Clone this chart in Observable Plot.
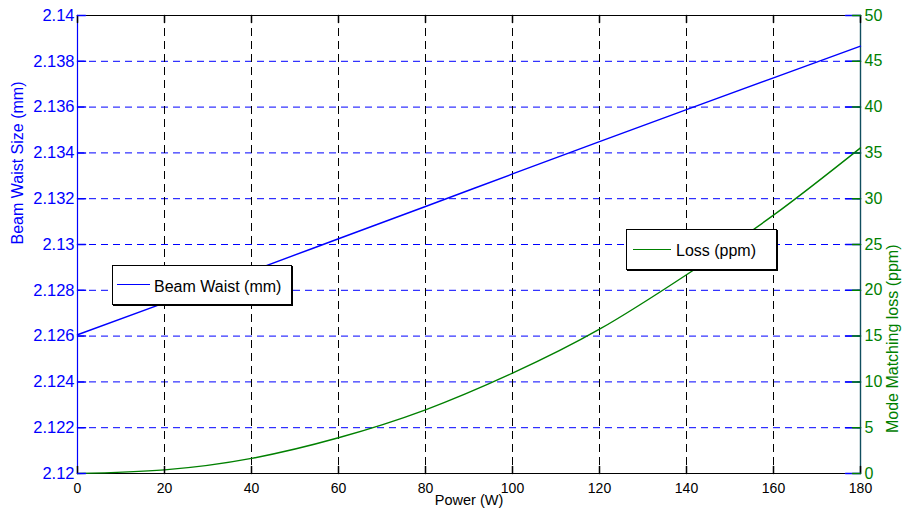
<!DOCTYPE html>
<html><head><meta charset="utf-8">
<script src="https://cdn.jsdelivr.net/npm/d3@7"></script>
<script src="https://cdn.jsdelivr.net/npm/@observablehq/plot@0.6"></script>
<style>
body{margin:0;background:#fff;}
#wrap{position:relative;width:903px;height:518px;}
.legend{position:absolute;background:#fff;border:1px solid #000;box-shadow:1px 1px 0 #000;font:16px "Liberation Sans",Arial,sans-serif;color:#000;box-sizing:border-box;}
.legend .swatch{position:absolute;height:0;border-top:1.3px solid;}
.legend .lbl{position:absolute;white-space:nowrap;line-height:1;}
</style></head><body>
<div id="wrap"></div>
<script>
// ---- data ----
const power = [0, 20, 40, 60, 80, 100, 120, 140, 160, 180];
const beamWaist = [2.12606, 2.12745, 2.12884, 2.13025, 2.13166, 2.13308, 2.13449, 2.13589, 2.13728, 2.13866];
const lossPpm = [0, 0.4, 1.65, 3.9, 6.95, 10.95, 15.75, 21.7, 28.2, 35.55];
const xTicks = [0, 20, 40, 60, 80, 100, 120, 140, 160, 180];
const leftTicks = [2.12, 2.122, 2.124, 2.126, 2.128, 2.13, 2.132, 2.134, 2.136, 2.138, 2.14];
const leftTickLabels = ["2.12", "2.122", "2.124", "2.126", "2.128", "2.13", "2.132", "2.134", "2.136", "2.138", "2.14"];
const rightTicks = [0, 5, 10, 15, 20, 25, 30, 35, 40, 45, 50];
const rightTickLabels = ["0", "5", "10", "15", "20", "25", "30", "35", "40", "45", "50"];
const xLabel = "Power (W)";
const yLeftLabel = "Beam Waist Size (mm)";
const yRightLabel = "Mode Matching loss (ppm)";
const seriesNames = ["Beam Waist (mm)", "Loss (ppm)"];

// ---- chart ----
const BLUE = "#0000ff", GREEN = "#008000", TEAL = "#104e5e";
const leftDomain = [2.12, 2.14], rightDomain = [0, 50];
const yR = v => leftDomain[0] + (v - rightDomain[0]) * (leftDomain[1] - leftDomain[0]) / (rightDomain[1] - rightDomain[0]);
const data = power.map((p, i) => ({p, w: beamWaist[i], loss: lossPpm[i]}));
const tickShape = {draw(ctx, l) { ctx.moveTo(0, 0); ctx.lineTo(0, -l); }};
const SANS = "Liberation Sans, Arial, sans-serif";
const NARROW = "Liberation Sans Narrow, Arial Narrow, Liberation Sans, sans-serif";

const plot = Plot.plot({
  width: 903, height: 518,
  marginLeft: 77, marginRight: 43, marginTop: 15, marginBottom: 45,
  x: {domain: [0, 180]},
  y: {domain: leftDomain},
  style: {background: "#fff", fontFamily: SANS, overflow: "visible"},
  marks: [
    Plot.gridY(leftTicks.slice(1, -1), {stroke: BLUE, strokeOpacity: 1, strokeDasharray: "7,5"}),
    Plot.gridX(xTicks.slice(1, -1), {stroke: "#000", strokeOpacity: 1, strokeDasharray: "8,5"}),
    Plot.ruleY([leftDomain[1]], {stroke: "#000"}),
    Plot.ruleY([leftDomain[0]], {stroke: "#000", strokeWidth: 1.2}),
    Plot.ruleX([0], {stroke: BLUE, strokeWidth: 1.2}),
    Plot.ruleX([180], {stroke: TEAL, strokeWidth: 1.4}),
    Plot.line(data, {x: "p", y: "w", stroke: BLUE, strokeWidth: 1.4, curve: "natural"}),
    Plot.line(data, {x: "p", y: d => yR(d.loss), stroke: GREEN, strokeWidth: 1.4, curve: "natural"}),
    // inward ticks
    Plot.vector(xTicks, {x: d => d, y: () => leftDomain[0], length: 7, rotate: 0, anchor: "start", shape: tickShape, stroke: "#000"}),
    Plot.vector(xTicks, {x: d => d, y: () => leftDomain[1], length: 7, rotate: 180, anchor: "start", shape: tickShape, stroke: "#000"}),
    Plot.vector(leftTicks, {x: () => 0, y: d => d, length: 8, rotate: 90, anchor: "start", shape: tickShape, stroke: BLUE}),
    Plot.vector(leftTicks, {x: () => 180, y: d => d, length: 15, rotate: -90, anchor: "start", shape: tickShape, stroke: BLUE}),
    Plot.vector(rightTicks, {x: () => 180, y: d => yR(d), length: 8, rotate: -90, anchor: "start", shape: tickShape, stroke: GREEN}),
    // axes labels
    Plot.axisX(xTicks, {tickSize: 0, tickPadding: 10, label: null, fontSize: 14, fontFamily: NARROW, color: "#000",
      tickFormat: d => String(d)}),
    Plot.axisY(leftTicks, {anchor: "left", tickSize: 0, tickPadding: 3, label: null, fontSize: 16.5, color: BLUE,
      tickFormat: d => leftTickLabels[leftTicks.indexOf(d)]}),
    Plot.axisY(rightTicks, {anchor: "right", y: d => yR(d), tickSize: 0, tickPadding: 4, label: null, fontSize: 16, color: GREEN,
      tickFormat: d => rightTickLabels[rightTicks.indexOf(d)]}),
    Plot.text([xLabel], {text: d => d, frameAnchor: "bottom", dy: 31, fontSize: 14.5, fontFamily: NARROW, fill: "#000"}),
    Plot.text([yLeftLabel], {text: d => d, frameAnchor: "left", dx: -60, rotate: -90, fontSize: 16, fill: BLUE}),
    Plot.text([yRightLabel], {text: d => d, frameAnchor: "right", dx: 32, rotate: -90, fontSize: 16, fill: GREEN})
  ]
});

const wrap = document.getElementById("wrap");
wrap.appendChild(plot);

function addLegend(name, color, box, sw, lbl) {
  const div = document.createElement("div");
  div.className = "legend";
  Object.assign(div.style, {left: box[0] + "px", top: box[1] + "px", width: box[2] + "px", height: box[3] + "px"});
  const s = document.createElement("div");
  s.className = "swatch";
  Object.assign(s.style, {left: sw[0] + "px", top: sw[1] + "px", width: sw[2] + "px", borderColor: color});
  const t = document.createElement("div");
  t.className = "lbl";
  t.textContent = name;
  Object.assign(t.style, {left: lbl[0] + "px", top: lbl[1] + "px"});
  div.appendChild(s); div.appendChild(t);
  wrap.appendChild(div);
}
addLegend(seriesNames[0], BLUE, [112, 265, 180, 40], [4, 18, 33], [41, 13]);
addLegend(seriesNames[1], GREEN, [626, 229, 151, 41], [6, 19, 38], [49, 13]);
</script>
</body></html>
